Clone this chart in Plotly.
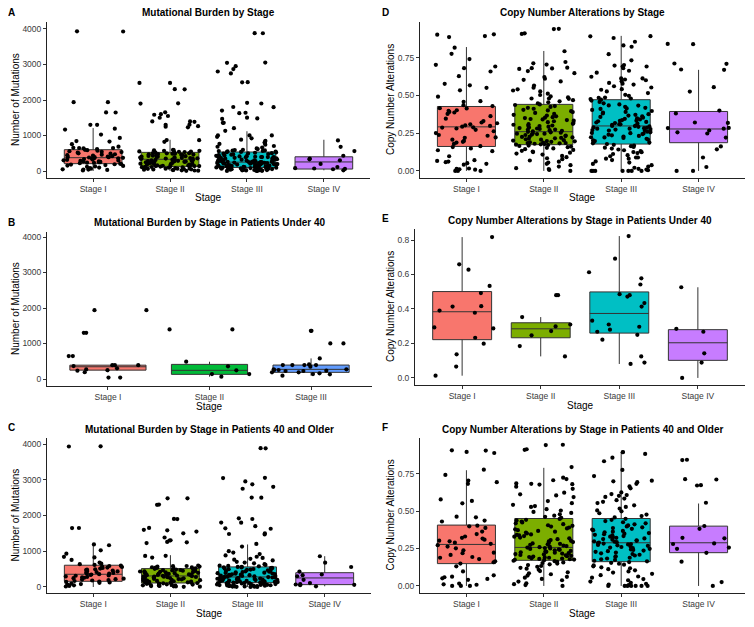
import math
import plotly.graph_objects as go

# ---------------- data ----------------
stages4 = ["Stage I", "Stage II", "Stage III", "Stage IV"]
stages3 = ["Stage I", "Stage II", "Stage III"]

# Mutational burden, patients under 40 (panel B)
mut_u40_s1 = [1940, 1940, 1300, 1300, 645, 645, 390, 390, 390, 365, 300, 270, 250, 235, 190, 40, 40]
mut_u40_s2 = [1396, 1396, 487, 356, 244, 140, 140, 66]
mut_u40_s3 = [1358, 1358, 1002, 1002, 580, 412, 393, 393, 393, 393, 347, 272, 272, 253, 253, 234,
              225, 225, 187, 187, 159, 140, 131, 94]

# Mutational burden, patients 40 and older (panel C)
mut_o40_s1 = [3935, 3930, 1650, 1648, 1192, 1168, 1026, 931, 843, 828, 757, 684, 652, 638, 617, 596,
              588, 571, 559, 542, 533, 516, 497, 488, 472, 459, 447, 436, 418, 407, 393, 381, 372, 359,
              347, 336, 322, 314, 297, 283, 271, 258, 246, 232, 219, 207, 194, 181, 168, 152, 143, 128,
              117, 96, 82, 67, 48, 31, 14]
mut_o40_s2 = [2480, 2480, 2305, 2300, 1905, 1900, 1652, 1600, 1585, 1550, 1500, 1385, 1305, 1300, 1262,
              1250, 1230, 872, 868, 822, 596, 588, 583, 571, 569, 552, 548, 541, 533, 521, 519, 507, 502,
              498, 487, 476, 472, 463, 455, 448, 441, 433, 425, 418, 409, 404, 396, 387, 381, 372, 366,
              358, 351, 347, 339, 331, 327, 318, 312, 305, 301, 293, 286, 279, 272, 266, 258, 251, 243,
              238, 229, 222, 214, 207, 198, 191, 186, 177, 169, 161, 154, 147, 139, 131, 126, 118, 113,
              109, 102, 96, 88, 81, 74, 67, 61, 55, 48, 42, 36, 31, 25, 19, 14, 9, 5]
mut_o40_s3 = [3882, 3880, 3055, 3048, 2952, 2871, 2803, 2748, 2502, 2498, 1921, 1902, 1803, 1798, 1702,
              1641, 1630, 1503, 1482, 1468, 1205, 1131, 1002, 962, 921, 883, 846, 812, 787, 764, 742, 705,
              683, 661, 637, 618, 597, 589, 578, 566, 561, 552, 547, 538, 529, 521, 514, 503, 496, 487,
              479, 466, 458, 447, 438, 429, 417, 409, 401, 394, 386, 377, 371, 363, 355, 346, 338, 331,
              325, 318, 311, 306, 298, 293, 287, 282, 277, 271, 266, 259, 254, 248, 243, 237, 231, 226,
              220, 215, 209, 204, 198, 193, 187, 182, 176, 171, 166, 160, 155, 149, 144, 139, 133, 128,
              124, 119, 115, 110, 106, 101, 97, 92, 88, 83, 79, 74, 70, 66, 61, 57, 53, 49, 45, 41, 37,
              33, 29, 26, 22, 18, 15, 11, 8, 5, 3, 1]
mut_o40_s4 = [860, 680, 560, 430, 350, 330, 300, 200, 110, 80, 70, 60, 50, 20]

# Copy number alterations, patients under 40 (panel E)
cna_u40_s1 = [0.817, 0.659, 0.628, 0.534, 0.492, 0.416, 0.414, 0.391, 0.378, 0.293, 0.287, 0.233,
              0.199, 0.137, 0.066, 0.013]
cna_u40_s2 = [0.48, 0.48, 0.353, 0.31, 0.299, 0.272, 0.247, 0.185, 0.125]
cna_u40_s3 = [0.823, 0.692, 0.613, 0.578, 0.542, 0.486, 0.48, 0.472, 0.434, 0.414, 0.332, 0.31, 0.297,
              0.28, 0.268, 0.25, 0.222, 0.125, 0.089, 0.081]
cna_u40_s4 = [0.526, 0.285, 0.268, 0.143, 0.089, 0.0]

# Copy number alterations, patients 40 and older (panel F)
cna_o40_s1 = [0.905, 0.903, 0.894, 0.887, 0.776, 0.741, 0.703, 0.692, 0.681, 0.577, 0.567, 0.551,
              0.462, 0.458, 0.436, 0.43, 0.402, 0.398, 0.387, 0.363, 0.346, 0.33, 0.321, 0.316, 0.309,
              0.302, 0.298, 0.289, 0.281, 0.272, 0.263, 0.251, 0.238, 0.222, 0.219, 0.207, 0.193, 0.188,
              0.179, 0.164, 0.158, 0.149, 0.131, 0.097, 0.071, 0.062, 0.058, 0.051, 0.047, 0.041, 0.016,
              0.011, 0.008, 0.0, 0.0, 0.0]
cna_o40_s2 = [0.942, 0.94, 0.912, 0.908, 0.793, 0.722, 0.713, 0.705, 0.684, 0.681, 0.679, 0.676, 0.662,
              0.648, 0.622, 0.611, 0.604, 0.593, 0.566, 0.552, 0.541, 0.533, 0.527, 0.512, 0.503, 0.494,
              0.487, 0.478, 0.469, 0.461, 0.455, 0.447, 0.441, 0.437, 0.43, 0.424, 0.418, 0.412, 0.405,
              0.401, 0.396, 0.39, 0.384, 0.378, 0.372, 0.367, 0.362, 0.356, 0.35, 0.344, 0.341, 0.337,
              0.333, 0.329, 0.323, 0.318, 0.312, 0.306, 0.301, 0.297, 0.293, 0.288, 0.284, 0.281, 0.278,
              0.274, 0.27, 0.266, 0.262, 0.259, 0.256, 0.253, 0.25, 0.247, 0.244, 0.241, 0.238, 0.234,
              0.231, 0.228, 0.225, 0.222, 0.219, 0.216, 0.213, 0.21, 0.207, 0.204, 0.201, 0.198, 0.196,
              0.193, 0.19, 0.188, 0.185, 0.183, 0.18, 0.178, 0.176, 0.174, 0.172, 0.168, 0.165, 0.161,
              0.157, 0.153, 0.149, 0.144, 0.139, 0.133, 0.128, 0.121, 0.115, 0.108, 0.099, 0.091, 0.084,
              0.078, 0.069, 0.061, 0.055, 0.047, 0.038, 0.029, 0.018, 0.012, 0.006, 0.0]
cna_o40_s3 = [0.893, 0.892, 0.881, 0.856, 0.832, 0.774, 0.733, 0.702, 0.698, 0.692, 0.681, 0.664, 0.651,
              0.624, 0.613, 0.606, 0.601, 0.594, 0.583, 0.572, 0.561, 0.553, 0.538, 0.527, 0.516, 0.504,
              0.498, 0.485, 0.476, 0.466, 0.457, 0.448, 0.441, 0.433, 0.425, 0.418, 0.411, 0.404, 0.397,
              0.391, 0.386, 0.381, 0.376, 0.372, 0.367, 0.362, 0.358, 0.353, 0.349, 0.345, 0.341, 0.337,
              0.333, 0.329, 0.325, 0.321, 0.317, 0.313, 0.309, 0.305, 0.301, 0.298, 0.295, 0.292, 0.289,
              0.286, 0.283, 0.28, 0.277, 0.274, 0.271, 0.268, 0.264, 0.26, 0.256, 0.252, 0.248, 0.244,
              0.24, 0.236, 0.232, 0.228, 0.223, 0.218, 0.213, 0.208, 0.203, 0.198, 0.193, 0.188, 0.183,
              0.178, 0.173, 0.168, 0.164, 0.159, 0.154, 0.148, 0.142, 0.137, 0.131, 0.124, 0.118, 0.112,
              0.104, 0.097, 0.089, 0.081, 0.072, 0.063, 0.055, 0.046, 0.038, 0.029, 0.021, 0.014, 0.009,
              0.005, 0.0, 0.0, 0.0, 0.0, 0.0, 0.0, 0.0]
cna_o40_s4 = [0.842, 0.84, 0.712, 0.71, 0.672, 0.67, 0.555, 0.4, 0.381, 0.321, 0.318, 0.284, 0.28,
              0.256, 0.248, 0.221, 0.162, 0.026, 0.0]

# box statistics: (lower whisker, q1, median, q3, upper whisker) per stage
box_A = [(0, 207, 375, 600, 1210), (0, 130, 330, 525, 880), (0, 100, 250, 535, 1120), (20, 55, 255, 400, 880)]
box_B = [(190, 250, 345, 390, 390), (66, 131, 244, 412, 487), (94, 187, 272, 393, 580)]
box_C = [(0, 159, 356, 609, 1190), (0, 112, 309, 515, 890), (0, 122, 281, 562, 1190), (20, 66, 253, 400, 862)]
box_D = [(0, 0.162, 0.292, 0.427, 0.821), (0, 0.174, 0.26, 0.441, 0.795), (0, 0.178, 0.298, 0.472, 0.895),
         (0, 0.187, 0.278, 0.394, 0.67)]
box_E = [(0.013, 0.222, 0.384, 0.501, 0.817), (0.125, 0.233, 0.285, 0.32, 0.353),
         (0.081, 0.26, 0.374, 0.499, 0.823), (0, 0.102, 0.204, 0.28, 0.526)]
box_F = [(0, 0.149, 0.277, 0.406, 0.772), (0, 0.171, 0.257, 0.45, 0.788), (0, 0.162, 0.288, 0.45, 0.892),
         (0, 0.222, 0.288, 0.399, 0.55)]

titles = ["Mutational Burden by Stage",
          "Mutational Burden by Stage in Patients Under 40",
          "Mutational Burden by Stage in Patients 40 and Older",
          "Copy Number Alterations by Stage",
          "Copy Number Alterations by Stage in Patients Under 40",
          "Copy Number Alterations by Stage in Patients 40 and Older"]
letters = ["A", "B", "C", "D", "E", "F"]

# ---------------- styling / layout ----------------
PAGE_W, PAGE_H = 754, 627
OFF = 8                      # default page body margin
W, H = PAGE_W - OFF, PAGE_H - OFF
FONT = "Liberation Sans, Arial, sans-serif"
hue4 = ["#F8766D", "#7CAE00", "#00BFC4", "#C77CFF"]
hue3 = ["#F8766D", "#00BA38", "#619CFF"]


def fx(px):
    return (px - OFF) / W


def fy(py):
    return 1 - (py - OFF) / H


mut_all = [mut_u40_s1 + mut_o40_s1, mut_u40_s2 + mut_o40_s2, mut_u40_s3 + mut_o40_s3, mut_o40_s4]
cna_all = [cna_u40_s1 + cna_o40_s1, cna_u40_s2 + cna_o40_s2, cna_u40_s3 + cna_o40_s3,
           cna_u40_s4 + cna_o40_s4]

panels = [
    dict(data=mut_all, box=box_A, col=hue4, lab=stages4, px=(47, 370, 22, 178), yr=[-197, 4197], kind="mut"),
    dict(data=[mut_u40_s1, mut_u40_s2, mut_u40_s3], box=box_B, col=hue3, lab=stages3,
         px=(47, 372, 232, 386), yr=[-197, 4141], kind="mut"),
    dict(data=[mut_o40_s1, mut_o40_s2, mut_o40_s3, mut_o40_s4], box=box_C, col=hue4, lab=stages4,
         px=(47, 371, 438, 593), yr=[-168, 4168], kind="mut"),
    dict(data=cna_all, box=box_D, col=hue4, lab=stages4, px=(420, 745, 22, 178), yr=[-0.047, 0.987], kind="cna"),
    dict(data=[cna_u40_s1, cna_u40_s2, cna_u40_s3, cna_u40_s4], box=box_E, col=hue4, lab=stages4,
         px=(415, 745, 229, 385), yr=[-0.041, 0.864], kind="cna2"),
    dict(data=[cna_o40_s1, cna_o40_s2, cna_o40_s3, cna_o40_s4], box=box_F, col=hue4, lab=stages4,
         px=(420, 745, 438, 593), yr=[-0.047, 0.987], kind="cna"),
]

fig = go.Figure()
annotations = []
layout_axes = {}


def jitter(k, seed):
    # deterministic horizontal spread in [-0.4, 0.4] (position only, like geom_jitter)
    h = math.sin(k * 12.9898 + seed * 78.233) * 43758.5453
    return ((h - math.floor(h)) - 0.5) * 0.8


for pi, p in enumerate(panels):
    n = pi + 1
    xa = "x" if n == 1 else f"x{n}"
    ya = "y" if n == 1 else f"y{n}"
    x0, x1, y0, y1 = p["px"]
    ns = len(p["lab"])
    pos = list(range(1, ns + 1))

    for si in range(ns):
        lo, q1, med, q3, hi = p["box"][si]
        fig.add_trace(go.Box(
            x=[pos[si]], q1=[q1], median=[med], q3=[q3], lowerfence=[lo], upperfence=[hi],
            width=0.75, whiskerwidth=0, fillcolor=p["col"][si], line=dict(color="#333333", width=1),
            boxpoints=False, hoverinfo="skip", showlegend=False, xaxis=xa, yaxis=ya))
    for si in range(ns):
        vals = p["data"][si]
        seed = pi * 7 + si * 3 + 1
        xs = [pos[si] + jitter(k, seed) for k in range(len(vals))]
        fig.add_trace(go.Scatter(
            x=xs, y=vals, mode="markers", marker=dict(color="black", size=4.2, line=dict(width=0)),
            hoverinfo="skip", showlegend=False, xaxis=xa, yaxis=ya))

    if p["kind"] == "mut":
        tv = [0, 1000, 2000, 3000, 4000]
        tt = ["0", "1000", "2000", "3000", "4000"]
        ytitle = "Number of Mutations"
    elif p["kind"] == "cna":
        tv = [0, 0.25, 0.5, 0.75]
        tt = ["0.00", "0.25", "0.50", "0.75"]
        ytitle = "Copy Number Alterations"
    else:
        tv = [0, 0.2, 0.4, 0.6, 0.8]
        tt = ["0.0", "0.2", "0.4", "0.6", "0.8"]
        ytitle = "Copy Number Alterations"

    common = dict(showline=True, linecolor="#222222", linewidth=1, ticks="outside", ticklen=3,
                  tickwidth=1, tickcolor="#333333", showgrid=False, zeroline=False,
                  tickfont=dict(family=FONT, size=8.5, color="#3A3A3A"), fixedrange=True)
    xkey = "xaxis" if n == 1 else f"xaxis{n}"
    ykey = "yaxis" if n == 1 else f"yaxis{n}"
    layout_axes[xkey] = dict(common, domain=[fx(x0), fx(x1)], range=[0.4, ns + 0.6],
                             tickvals=pos, ticktext=p["lab"], anchor=ya)
    layout_axes[ykey] = dict(common, domain=[fy(y1), fy(y0)], range=p["yr"],
                             tickvals=tv, ticktext=tt, anchor=xa)

    cx = (x0 + x1) / 2
    annotations.append(dict(text=f"<b>{titles[pi]}</b>", x=fx(cx), y=fy(y0 - 9), xref="paper", yref="paper",
                            showarrow=False, xanchor="center", yanchor="middle",
                            font=dict(family=FONT, size=10, color="black")))
    lx = 11 if x0 < 200 else 385
    annotations.append(dict(text=f"<b>{letters[pi]}</b>", x=fx(lx), y=fy(y0 - 10), xref="paper",
                            yref="paper", showarrow=False, xanchor="center", yanchor="middle",
                            font=dict(family=FONT, size=10, color="black")))
    annotations.append(dict(text="Stage", x=fx(cx), y=fy(y1 + 20), xref="paper", yref="paper",
                            showarrow=False, xanchor="center", yanchor="middle",
                            font=dict(family=FONT, size=10, color="black")))
    ytx = 15 if x0 < 200 else 390
    annotations.append(dict(text=ytitle, x=fx(ytx), y=fy((y0 + y1) / 2), xref="paper", yref="paper",
                            showarrow=False, xanchor="center", yanchor="middle", textangle=-90,
                            font=dict(family=FONT, size=10, color="black")))

fig.update_layout(
    width=W, height=H, margin=dict(l=0, r=0, t=0, b=0),
    paper_bgcolor="white", plot_bgcolor="white", showlegend=False,
    annotations=annotations, font=dict(family=FONT),
    **layout_axes)

fig.write_html("out.html")
